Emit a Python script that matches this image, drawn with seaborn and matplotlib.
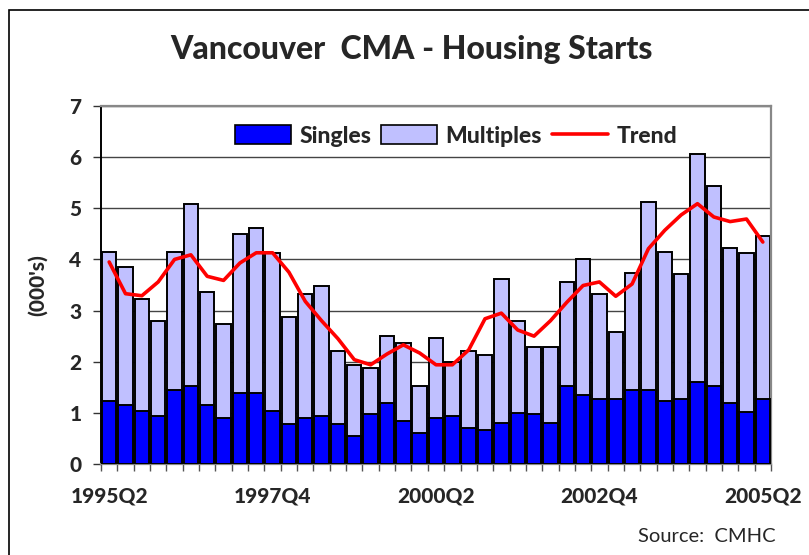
import numpy as np
import pandas as pd
import matplotlib
matplotlib.use("Agg")
import matplotlib.pyplot as plt
import seaborn as sns
from matplotlib.patches import Patch, Rectangle
from matplotlib.lines import Line2D

quarters = [f"{y}Q{q}" for y in range(1995, 2006) for q in range(1, 5)][1:42]

singles = [1.23, 1.15, 1.04, 0.93, 1.45, 1.53, 1.15, 0.89, 1.38, 1.38,
           1.04, 0.78, 0.89, 0.93, 0.78, 0.55, 0.97, 1.19, 0.85, 0.60,
           0.89, 0.93, 0.70, 0.66, 0.81, 1.00, 0.97, 0.81, 1.53, 1.35,
           1.27, 1.27, 1.45, 1.45, 1.23, 1.27, 1.60, 1.53, 1.19, 1.01,
           1.27]
totals = [4.15, 3.86, 3.22, 2.80, 4.15, 5.08, 3.37, 2.73, 4.49, 4.61,
          4.12, 2.87, 3.33, 3.48, 2.20, 1.94, 1.87, 2.51, 2.36, 1.53,
          2.47, 1.99, 2.20, 2.13, 3.62, 2.80, 2.28, 2.28, 3.56, 4.00,
          3.33, 2.58, 3.74, 5.12, 4.15, 3.71, 6.07, 5.43, 4.23, 4.12,
          4.46]
trend = [3.95, 3.33, 3.29, 3.56, 4.00, 4.09, 3.67, 3.59, 3.93, 4.13,
         4.13, 3.75, 3.18, 2.80, 2.45, 2.04, 1.94, 2.15, 2.33, 2.17,
         1.94, 1.94, 2.23, 2.84, 2.95, 2.62, 2.50, 2.80, 3.16, 3.49,
         3.56, 3.28, 3.52, 4.21, 4.57, 4.87, 5.09, 4.83, 4.74, 4.79,
         4.34]
multiples = [t - s for t, s in zip(totals, singles)]
tick_labels = ["1995Q2", "1997Q4", "2000Q2", "2002Q4", "2005Q2"]

df = pd.DataFrame({"quarter": quarters, "singles": singles,
                   "total": totals, "trend": trend})

sns.set_theme(style="white")
plt.rcParams["font.family"] = ["Lato", "DejaVu Sans"]
W = 900

fig = plt.figure(figsize=(8.09, 5.55), dpi=100)
ax = fig.add_axes([101/809, 1-464/555, 670/809, 358/555])

single_c = "#0000FF"
multi_c = "#C0C0FF"

sns.barplot(data=df, x="quarter", y="total", color=multi_c, saturation=1,
            edgecolor="black", linewidth=1.4, width=0.88, ax=ax, zorder=2)
sns.barplot(data=df, x="quarter", y="singles", color=single_c, saturation=1,
            edgecolor="black", linewidth=1.4, width=0.88, ax=ax, zorder=3)
df["pos"] = np.arange(len(df))
sns.lineplot(data=df, x="pos", y="trend", color="#FF0000", linewidth=2.6,
             ax=ax, zorder=4)

ax.set_xlim(-0.5, len(quarters) - 0.5)
ax.set_ylim(0, 7)
ax.set_yticks(range(0, 8))
ax.yaxis.grid(True, color="#444444", linewidth=1.0, zorder=0)
ax.set_axisbelow(True)

pos_labels = [quarters.index(q) for q in tick_labels]
ax.set_xticks(pos_labels)
ax.set_xticklabels(tick_labels, fontsize=15, fontweight=W)
ax.tick_params(axis="x", which="major", length=0, pad=16)
ax.set_xticks(np.arange(-0.5, len(quarters)), minor=True)
ax.tick_params(axis="x", which="minor", length=5, width=1, color="#555555",
               direction="out", bottom=True)
ax.tick_params(axis="y", length=6, width=1, color="#333333", direction="out",
               left=True, labelsize=15, pad=8)
for lbl in ax.get_yticklabels():
    lbl.set_fontweight(W)

ax.set_xlabel("")
ax.set_ylabel("(000's)", fontsize=15, fontweight=W, labelpad=16)

for side in ["top", "right", "bottom"]:
    ax.spines[side].set_color("#888888")
    ax.spines[side].set_linewidth(1.6)
ax.spines["left"].set_color("black")
ax.spines["left"].set_linewidth(1.4)

handles = [Patch(facecolor=single_c, edgecolor="black", linewidth=1.2),
           Patch(facecolor=multi_c, edgecolor="black", linewidth=1.2),
           Line2D([], [], color="#FF0000", linewidth=2.6)]
ax.legend(handles, ["Singles", "Multiples", "Trend"], ncol=3, frameon=False,
          loc="center", bbox_to_anchor=(456/809, 1-136/555),
          bbox_transform=fig.transFigure,
          prop={"size": 16.5, "weight": W}, handlelength=2.45,
          handleheight=0.9, handletextpad=0.35, columnspacing=0.45)

fig.text(412/809, 1-50/555, "Vancouver  CMA - Housing Starts",
         ha="center", va="center", fontsize=23, fontweight=W)
fig.text(776/809, 1-537/555, "Source:  CMHC", ha="right", va="center",
         fontsize=14.5)

fig.patches.append(Rectangle((9/809, -0.05), 1.1, (1-10/555) + 0.05,
                             transform=fig.transFigure, fill=False,
                             edgecolor="black", linewidth=1.2))

fig.savefig("out.png", dpi=100)
